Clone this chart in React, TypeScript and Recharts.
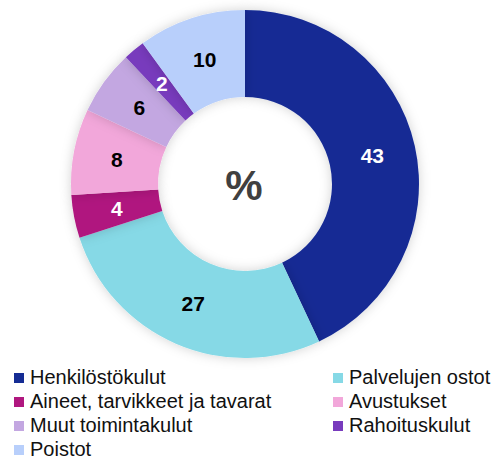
import React from "react";
import { PieChart, Pie, Cell, Legend } from "recharts";

const categories = [
  "Henkilöstökulut",
  "Palvelujen ostot",
  "Aineet, tarvikkeet ja tavarat",
  "Avustukset",
  "Muut toimintakulut",
  "Rahoituskulut",
  "Poistot",
];
const values = [43, 27, 4, 8, 6, 2, 10];
const colors = ["#152c94", "#86d9e6", "#b0177f", "#f2a7da", "#c3a7e1", "#783bbd", "#b8cffb"];
const labelColors = ["#ffffff", "#000000", "#ffffff", "#000000", "#000000", "#ffffff", "#000000"];

// legend order: two columns, read row by row
const legendOrder = [0, 1, 2, 3, 4, 5, 6];

const data = categories.map((name, i) => ({ name, value: values[i] }));

const RADIAN = Math.PI / 180;

const renderLabel = (props: any) => {
  const { cx, cy, midAngle, innerRadius, outerRadius, index } = props;
  const r = (innerRadius + outerRadius) / 2;
  const x = cx + r * Math.cos(-midAngle * RADIAN);
  const y = cy + r * Math.sin(-midAngle * RADIAN);
  return (
    <text
      x={x}
      y={y}
      fill={labelColors[index]}
      textAnchor="middle"
      dominantBaseline="central"
      fontSize={21}
      fontWeight="bold"
      fontFamily="'Liberation Sans', Arial, sans-serif"
    >
      {values[index]}
    </text>
  );
};

const renderLegend = () => (
  <div
    style={{
      display: "grid",
      gridTemplateColumns: "319px 160px",
      rowGap: 1,
      fontFamily: "'Liberation Sans', Arial, sans-serif",
      fontSize: 20,
      color: "#111",
    }}
  >
    {legendOrder.map((i) => (
      <div key={i} style={{ display: "flex", alignItems: "center", height: 23, whiteSpace: "nowrap" }}>
        <span style={{ width: 10, height: 10, background: colors[i], marginRight: 6, display: "inline-block" }} />
        {categories[i]}
      </div>
    ))}
  </div>
);

export default function App() {
  return (
    <div style={{ position: "fixed", top: 0, left: 0, width: 494, height: 462, background: "#fff" }}>
      <svg width="0" height="0" style={{ position: "absolute" }}>
        <defs>
          <filter id="donutShadow" x="-20%" y="-20%" width="140%" height="140%">
            <feDropShadow dx="0" dy="0" stdDeviation="6" floodColor="#000" floodOpacity="0.18" />
          </filter>
        </defs>
      </svg>
      <PieChart width={494} height={462} margin={{ top: 0, right: 0, bottom: 0, left: 0 }}>
        <Pie
          data={data}
          dataKey="value"
          nameKey="name"
          cx={245}
          cy={184}
          innerRadius={87}
          outerRadius={174}
          startAngle={90}
          endAngle={-270}
          stroke="none"
          label={renderLabel}
          labelLine={false}
          isAnimationActive={false}
          style={{ filter: "url(#donutShadow)" }}
        >
          {data.map((d, i) => (
            <Cell key={d.name} fill={colors[i]} />
          ))}
        </Pie>
        <text
          x={244}
          y={185}
          textAnchor="middle"
          dominantBaseline="central"
          fontSize={42}
          fontWeight="bold"
          fill="#404040"
          fontFamily="'Liberation Sans', Arial, sans-serif"
        >
          %
        </text>
        <Legend
          content={renderLegend}
          wrapperStyle={{ position: "absolute", top: 366, left: 14, width: 480 }}
        />
      </PieChart>
    </div>
  );
}
